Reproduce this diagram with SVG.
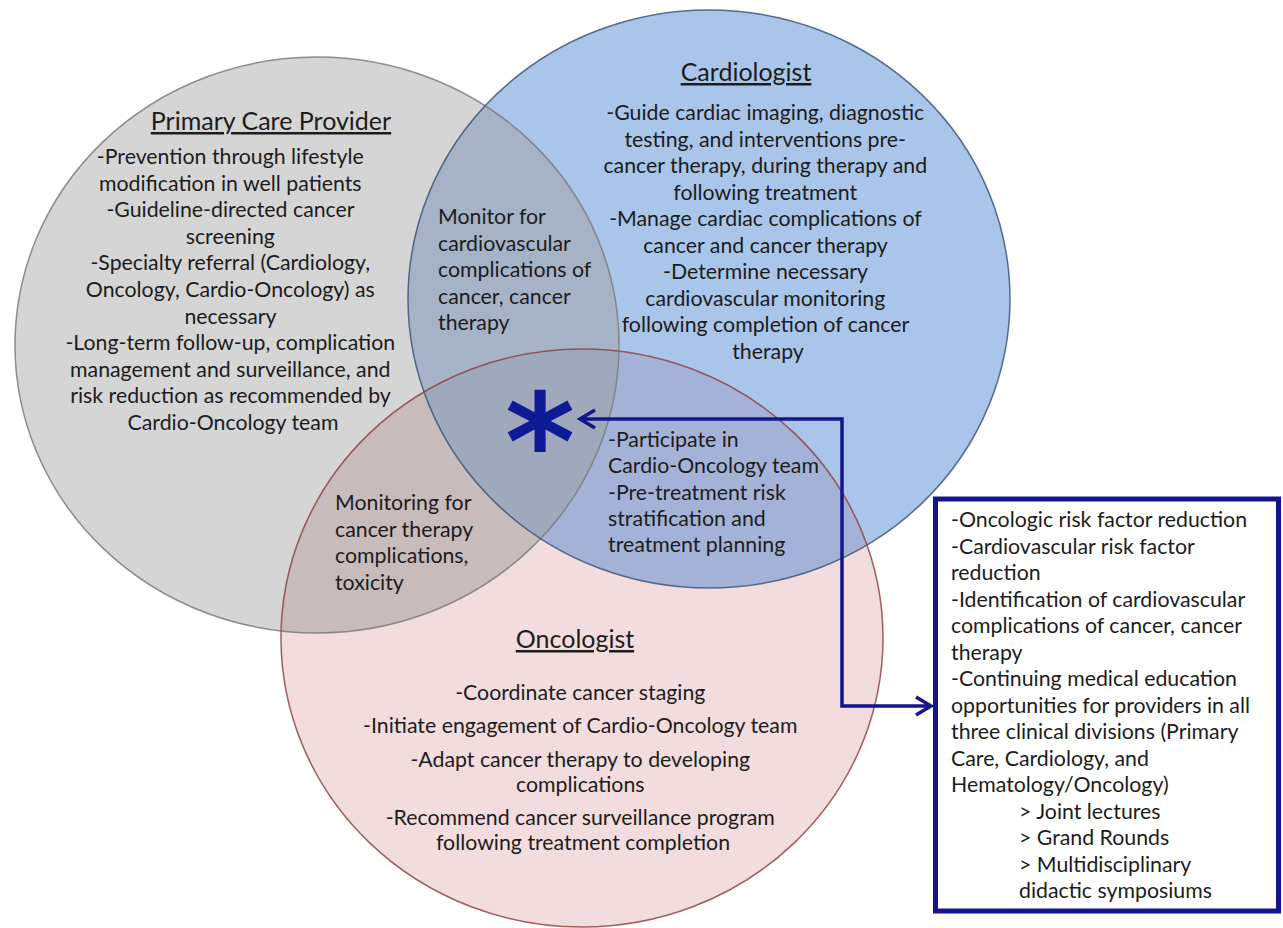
<svg xmlns="http://www.w3.org/2000/svg" width="1283" height="928" viewBox="0 0 1283 928">
  <style>
    .t { font-family: Lato, "Liberation Sans", sans-serif; font-size: 21.3px; fill: #1c1c1c; }
    .c { text-anchor: middle; }
    .title { font-family: Lato, "Liberation Sans", sans-serif; font-size: 25px; fill: #1c1c1c; text-anchor: middle; text-decoration: underline; }
    .edge { fill: none; stroke-width: 1.5; }
    .link { fill: none; stroke: #14148c; stroke-width: 3.5; }
  </style>
  <defs>
    <clipPath id="clipGray"><ellipse cx="317" cy="345" rx="302" ry="288"/></clipPath>
    <clipPath id="clipBlue"><ellipse cx="709" cy="299" rx="301" ry="289"/></clipPath>
    <marker id="chev" markerUnits="userSpaceOnUse" markerWidth="30" markerHeight="30" refX="0" refY="0" orient="auto-start-reverse" overflow="visible">
      <path d="M -15 -9 L 0 0 L -15 9" fill="none" stroke="#14148c" stroke-width="3.5" stroke-linejoin="miter"/>
    </marker>
  </defs>

  <rect width="1283" height="928" fill="#ffffff"/>

  <!-- circle fills -->
  <g id="fills">
    <ellipse cx="317" cy="345" rx="302" ry="288" fill="#d5d5d5"/>
    <ellipse cx="709" cy="299" rx="301" ry="289" fill="#a9c5e9"/>
    <ellipse cx="582" cy="638" rx="301" ry="289" fill="#f2dcdd"/>
    <!-- pairwise overlaps -->
    <ellipse cx="709" cy="299" rx="301" ry="289" fill="#a6b3c7" clip-path="url(#clipGray)"/>
    <ellipse cx="582" cy="638" rx="301" ry="289" fill="#c7bbbc" clip-path="url(#clipGray)"/>
    <ellipse cx="582" cy="638" rx="301" ry="289" fill="#a5b2d8" clip-path="url(#clipBlue)"/>
    <!-- centre of all three -->
    <g clip-path="url(#clipGray)">
      <ellipse cx="582" cy="638" rx="301" ry="289" fill="#a0a9bc" clip-path="url(#clipBlue)"/>
    </g>
  </g>

  <!-- circle outlines -->
  <g id="outlines">
    <ellipse class="edge" cx="317" cy="345" rx="302" ry="288" stroke="#7b7b7b" stroke-opacity="0.85"/>
    <ellipse class="edge" cx="709" cy="299" rx="301" ry="289" stroke="#3d5778" stroke-opacity="0.85"/>
    <ellipse class="edge" cx="582" cy="638" rx="301" ry="289" stroke="#8a3b3b" stroke-opacity="0.8"/>
  </g>

  <!-- Primary Care Provider -->
  <g id="primary-care">
    <text class="title" x="271" y="130">Primary Care Provider</text>
    <text class="t c">
      <tspan x="233" y="164">-Prevention through lifestyle</tspan>
      <tspan x="233" y="190.6">modification in well patients</tspan>
      <tspan x="233" y="217.2">-Guideline-directed cancer</tspan>
      <tspan x="233" y="243.8">screening</tspan>
      <tspan x="233" y="270.4">-Specialty referral (Cardiology,</tspan>
      <tspan x="233" y="297">Oncology, Cardio-Oncology) as</tspan>
      <tspan x="233" y="323.6">necessary</tspan>
      <tspan x="233" y="350.2">-Long-term follow-up, complication</tspan>
      <tspan x="233" y="376.8">management and surveillance, and</tspan>
      <tspan x="233" y="403.4">risk reduction as recommended by</tspan>
      <tspan x="233" y="430">Cardio-Oncology team</tspan>
    </text>
  </g>

  <!-- Cardiologist -->
  <g id="cardiologist">
    <text class="title" x="746" y="81">Cardiologist</text>
    <text class="t c">
      <tspan x="768" y="120">-Guide cardiac imaging, diagnostic</tspan>
      <tspan x="768" y="146.5">testing, and interventions pre-</tspan>
      <tspan x="768" y="173">cancer therapy, during therapy and</tspan>
      <tspan x="768" y="199.5">following treatment</tspan>
      <tspan x="768" y="226">-Manage cardiac complications of</tspan>
      <tspan x="768" y="252.5">cancer and cancer therapy</tspan>
      <tspan x="768" y="279">-Determine necessary</tspan>
      <tspan x="768" y="305.5">cardiovascular monitoring</tspan>
      <tspan x="768" y="332">following completion of cancer</tspan>
      <tspan x="768" y="358.5">therapy</tspan>
    </text>
  </g>

  <!-- Oncologist -->
  <g id="oncologist">
    <text class="title" x="575" y="648">Oncologist</text>
    <text class="t c">
      <tspan x="583" y="700">-Coordinate cancer staging</tspan>
      <tspan x="583" y="733">-Initiate engagement of Cardio-Oncology team</tspan>
      <tspan x="583" y="767">-Adapt cancer therapy to developing</tspan>
      <tspan x="583" y="792">complications</tspan>
      <tspan x="583" y="825">-Recommend cancer surveillance program</tspan>
      <tspan x="583" y="850">following treatment completion</tspan>
    </text>
  </g>

  <!-- shared areas -->
  <g id="primary-cardio">
    <text class="t">
      <tspan x="438" y="224">Monitor for</tspan>
      <tspan x="438" y="250.5">cardiovascular</tspan>
      <tspan x="438" y="277">complications of</tspan>
      <tspan x="438" y="303.5">cancer, cancer</tspan>
      <tspan x="438" y="330">therapy</tspan>
    </text>
  </g>
  <g id="cardio-onco">
    <text class="t">
      <tspan x="608" y="447">-Participate in</tspan>
      <tspan x="608" y="473.3">Cardio-Oncology team</tspan>
      <tspan x="608" y="499.6">-Pre-treatment risk</tspan>
      <tspan x="608" y="525.9">stratification and</tspan>
      <tspan x="608" y="552.2">treatment planning</tspan>
    </text>
  </g>
  <g id="primary-onco">
    <text class="t">
      <tspan x="335" y="510">Monitoring for</tspan>
      <tspan x="335" y="536.7">cancer therapy</tspan>
      <tspan x="335" y="563.4">complications,</tspan>
      <tspan x="335" y="590">toxicity</tspan>
    </text>
  </g>

  <!-- centre mark -->
  <g id="star">
    <text x="540" y="489" font-family="DejaVu Sans, sans-serif" font-weight="bold" font-size="134" fill="#0f1a96" text-anchor="middle">*</text>
  </g>

  <!-- connectors -->
  <g id="connectors">
    <polyline class="link" points="580,419 842,419 842,706 931,706" marker-start="url(#chev)" marker-end="url(#chev)"/>
  </g>

  <!-- shared programme box -->
  <g id="programme">
    <rect x="935.5" y="499" width="343" height="412" fill="#ffffff" stroke="#14148c" stroke-width="5"/>
    <text class="t">
      <tspan x="951" y="527">-Oncologic risk factor reduction</tspan>
      <tspan x="951" y="553.5">-Cardiovascular risk factor</tspan>
      <tspan x="951" y="580">reduction</tspan>
      <tspan x="951" y="606.5">-Identification of cardiovascular</tspan>
      <tspan x="951" y="633">complications of cancer, cancer</tspan>
      <tspan x="951" y="659.5">therapy</tspan>
      <tspan x="951" y="686">-Continuing medical education</tspan>
      <tspan x="951" y="712.5">opportunities for providers in all</tspan>
      <tspan x="951" y="739">three clinical divisions (Primary</tspan>
      <tspan x="951" y="765.5">Care, Cardiology, and</tspan>
      <tspan x="951" y="792">Hematology/Oncology)</tspan>
      <tspan x="1019" y="818.5">&gt; Joint lectures</tspan>
      <tspan x="1019" y="845">&gt; Grand Rounds</tspan>
      <tspan x="1019" y="871.5">&gt; Multidisciplinary</tspan>
      <tspan x="1019" y="898">didactic symposiums</tspan>
    </text>
  </g>
</svg>
